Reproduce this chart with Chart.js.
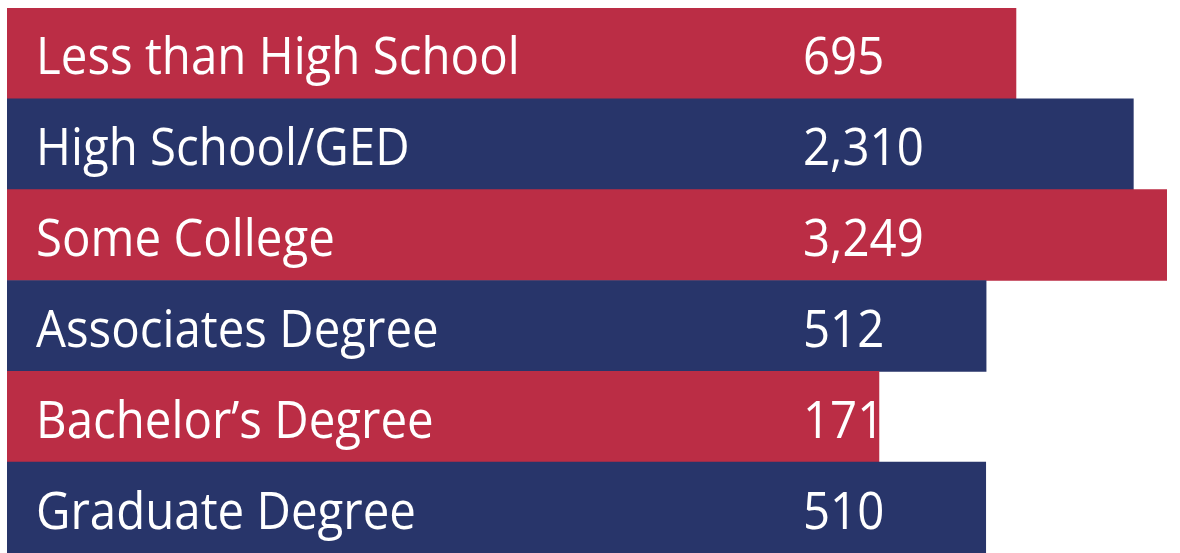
<!DOCTYPE html>
<html>
<head>
<meta charset="utf-8">
<script src="https://cdn.jsdelivr.net/npm/chart.js@4"></script>
<style>
    body { margin: 0; background: #fff; }
    #wrap { width: 1180px; height: 553px; }
</style>
</head>
<body>
<div id="wrap"><canvas id="eduChart"></canvas></div>
<script>
    var categories = ['Less than High School', 'High School/GED', 'Some College', 'Associates Degree', 'Bachelor\u2019s Degree', 'Graduate Degree'];
    var counts = [695, 2310, 3249, 512, 171, 510];
    var valueLabels = ['695', '2,310', '3,249', '512', '171', '510'];

    var red = 'rgb(187, 45, 69)';
    var navy = 'rgb(40, 53, 106)';
    var barColors = categories.map(function (c, i) { return i % 2 === 0 ? red : navy; });

    // white text inside each bar: category on the left, number further right
    var barText = {
        id: 'barText',
        afterDatasetsDraw: function (chart) {
            var ctx = chart.ctx;
            var bars = chart.getDatasetMeta(0).data;
            var sx = 0.93; // squeeze a bit, the original face is narrower
            ctx.save();
            ctx.fillStyle = '#fff';
            ctx.font = '51px "Open Sans"';
            ctx.textBaseline = 'alphabetic';
            ctx.scale(sx, 1);
            bars.forEach(function (bar, i) {
                ctx.fillText(categories[i], 36 / sx, bar.y + 21);
                ctx.fillText(valueLabels[i], 803 / sx, bar.y + 21);
            });
            ctx.restore();
        }
    };

    var ctx = document.getElementById('eduChart').getContext('2d');
    var eduChart = new Chart(ctx, {
        type: 'bar',
        data: {
            labels: categories,
            datasets: [{
                data: counts,
                backgroundColor: barColors,
                borderWidth: 0,
                barPercentage: 1,
                categoryPercentage: 1
            }]
        },
        options: {
            indexAxis: 'y',
            responsive: true,
            maintainAspectRatio: false,
            animation: false,
            layout: { padding: { left: 7, top: 8, right: 0, bottom: 0 } },
            plugins: { legend: { display: false }, tooltip: { enabled: false } },
            scales: {
                x: { type: 'logarithmic', min: 0.0228, max: 3724, display: false },
                y: { display: false }
            }
        },
        plugins: [barText]
    });
</script>
</body>
</html>
